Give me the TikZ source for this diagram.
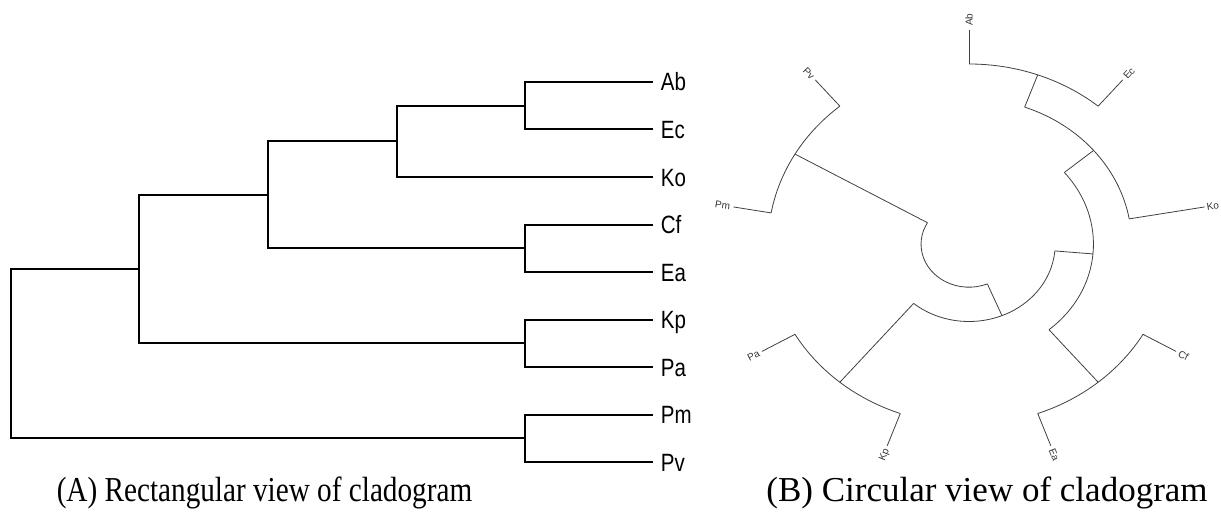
\documentclass[tikz,border=0pt]{standalone}
\usepackage{fontspec}
\setmainfont{Liberation Serif}
\newfontfamily\labfont[FakeStretch=0.82]{Liberation Sans}
\newfontfamily\capafont[FakeStretch=0.835]{Liberation Serif}
\newfontfamily\smallfont{Liberation Sans}
\begin{document}
\begin{tikzpicture}[x=1pt,y=-1pt,
  rbranch/.style={line width=2pt, black},
  cbranch/.style={line width=0.8pt, black!75},
  rlabel/.style={anchor=west, inner sep=0pt, font=\labfont\fontsize{25}{25}\selectfont, text height=18pt, text depth=0pt},
  clabel/.style={inner sep=1pt, font=\smallfont\fontsize{10}{10}\selectfont, text height=7.2pt, text depth=0pt, text=black!80},
  caption/.style={inner sep=0pt, anchor=base}]
\useasboundingbox (0,0) rectangle (1221,516);
% ---------------- rectangular cladogram ----------------
\coordinate (Ab) at (653.3,82);
\coordinate (Ec) at (653.3,129.5);
\coordinate (Ko) at (653.3,177);
\coordinate (Cf) at (653.3,224.5);
\coordinate (Ea) at (653.3,272);
\coordinate (Kp) at (653.3,319.5);
\coordinate (Pa) at (653.3,367);
\coordinate (Pm) at (653.3,414.5);
\coordinate (Pv) at (653.3,462);
\coordinate (AE) at (525,105.75);
\coordinate (Z) at (396.6,141.4);
\coordinate (CE) at (525,248.25);
\coordinate (Y) at (268.3,194.8);
\coordinate (KP) at (525,343.25);
\coordinate (X) at (139.3,269);
\coordinate (PP) at (525,438.25);
\coordinate (R) at (11.3,353.6);
\draw[rbranch] (R) |- (X);
\draw[rbranch] (R) |- (PP);
\draw[rbranch] (X) |- (Y);
\draw[rbranch] (X) |- (KP);
\draw[rbranch] (Y) |- (Z);
\draw[rbranch] (Y) |- (CE);
\draw[rbranch] (Z) |- (AE);
\draw[rbranch] (Z) |- (Ko);
\draw[rbranch] (AE) |- (Ab);
\draw[rbranch] (AE) |- (Ec);
\draw[rbranch] (CE) |- (Cf);
\draw[rbranch] (CE) |- (Ea);
\draw[rbranch] (KP) |- (Kp);
\draw[rbranch] (KP) |- (Pa);
\draw[rbranch] (PP) |- (Pm);
\draw[rbranch] (PP) |- (Pv);
\node[rlabel, xshift=7.4pt] (tAb) at (Ab) {Ab};
\node[rlabel, xshift=7.4pt] (tEc) at (Ec) {Ec};
\node[rlabel, xshift=7.4pt] (tKo) at (Ko) {Ko};
\node[rlabel, xshift=7.4pt] (tCf) at (Cf) {Cf};
\node[rlabel, xshift=7.4pt] (tEa) at (Ea) {Ea};
\node[rlabel, xshift=7.4pt] (tKp) at (Kp) {Kp};
\node[rlabel, xshift=7.4pt] (tPa) at (Pa) {Pa};
\node[rlabel, xshift=7.4pt] (tPm) at (Pm) {Pm};
\node[rlabel, xshift=7.4pt] (tPv) at (Pv) {Pv};
% ---------------- circular cladogram ----------------
\begin{scope}[shift={(969,244.2)}, x=1.115pt, y=1pt]
  % root arc ends
  \coordinate (cRa) at (150:43);
  \coordinate (cRb) at (-67.5:43);
  % Pm/Pv
  \coordinate (cPP) at (150:180.2);
  \coordinate (cPm0) at (170:180.2);
  \coordinate (cPv0) at (130:180.2);
  \coordinate (cPm) at (170:214.5);
  \coordinate (cPv) at (130:214.5);
  % X
  \coordinate (cX) at (-67.5:77.3);
  \coordinate (cXa) at (-130:77.3);
  \coordinate (cXb) at (-5:77.3);
  % Kp/Pa
  \coordinate (cKP) at (-130:180.2);
  \coordinate (cKp0) at (-110:180.2);
  \coordinate (cPa0) at (-150:180.2);
  \coordinate (cKp) at (-110:214.5);
  \coordinate (cPa) at (-150:214.5);
  % Y
  \coordinate (cY) at (-5:111.6);
  \coordinate (cYa) at (-50:111.6);
  \coordinate (cYb) at (40:111.6);
  % Cf/Ea
  \coordinate (cCE) at (-50:180.2);
  \coordinate (cCf0) at (-30:180.2);
  \coordinate (cEa0) at (-70:180.2);
  \coordinate (cCf) at (-30:214.5);
  \coordinate (cEa) at (-70:214.5);
  % Z
  \coordinate (cZ) at (40:145.9);
  \coordinate (cZa) at (10:145.9);
  \coordinate (cZb) at (70:145.9);
  \coordinate (cKo) at (10:214.5);
  % Ab/Ec
  \coordinate (cAE) at (70:180.2);
  \coordinate (cAb0) at (90:180.2);
  \coordinate (cEc0) at (50:180.2);
  \coordinate (cAb) at (90:214.5);
  \coordinate (cEc) at (50:214.5);
  % branches
  \draw[cbranch] (cRa) arc[start angle=150, end angle=292.5, x radius=47.95pt, y radius=43pt];
  \draw[cbranch] (cRa) -- (cPP);
  \draw[cbranch] (cRb) -- (cX);
  \draw[cbranch] (cPv0) arc[start angle=130, end angle=170, x radius=200.92pt, y radius=180.2pt];
  \draw[cbranch] (cPm0) -- (cPm);
  \draw[cbranch] (cPv0) -- (cPv);
  \draw[cbranch] (cXa) arc[start angle=-130, end angle=-5, x radius=86.19pt, y radius=77.3pt];
  \draw[cbranch] (cXa) -- (cKP);
  \draw[cbranch] (cXb) -- (cY);
  \draw[cbranch] (cPa0) arc[start angle=-150, end angle=-110, x radius=200.92pt, y radius=180.2pt];
  \draw[cbranch] (cKp0) -- (cKp);
  \draw[cbranch] (cPa0) -- (cPa);
  \draw[cbranch] (cYa) arc[start angle=-50, end angle=40, x radius=124.43pt, y radius=111.6pt];
  \draw[cbranch] (cYa) -- (cCE);
  \draw[cbranch] (cYb) -- (cZ);
  \draw[cbranch] (cEa0) arc[start angle=-70, end angle=-30, x radius=200.92pt, y radius=180.2pt];
  \draw[cbranch] (cCf0) -- (cCf);
  \draw[cbranch] (cEa0) -- (cEa);
  \draw[cbranch] (cZa) arc[start angle=10, end angle=70, x radius=162.68pt, y radius=145.9pt];
  \draw[cbranch] (cZa) -- (cKo);
  \draw[cbranch] (cZb) -- (cAE);
  \draw[cbranch] (cEc0) arc[start angle=50, end angle=90, x radius=200.92pt, y radius=180.2pt];
  \draw[cbranch] (cAb0) -- (cAb);
  \draw[cbranch] (cEc0) -- (cEc);
  % labels
  \node[clabel, anchor=west, rotate=90] (lAb) at (90:217) {Ab};
  \node[clabel, anchor=west, rotate=46.9] (lEc) at (50:216.5) {Ec};
  \node[clabel, anchor=west, rotate=9] (lKo) at (10:215.5) {Ko};
  \node[clabel, anchor=west, rotate=-27.4] (lCf) at (-30:216.5) {Cf};
  \node[clabel, anchor=west, rotate=-67.9] (lEa) at (-70:216.5) {Ea};
  \node[clabel, anchor=east, rotate=67.9] (lKp) at (-110:216.5) {Kp};
  \node[clabel, anchor=east, rotate=27.4] (lPa) at (-150:216.5) {Pa};
  \node[clabel, anchor=east, rotate=-9] (lPm) at (170:216.5) {Pm};
  \node[clabel, anchor=east, rotate=-46.9] (lPv) at (130:216.5) {Pv};
\end{scope}
% captions
\node[caption, font=\capafont\fontsize{35}{35}\selectfont] (capA) at (264.5,501) {(A) Rectangular view of cladogram};
\node[caption, font=\fontsize{35}{35}\selectfont] (capB) at (987,501) {(B) Circular view of cladogram};
\end{tikzpicture}
\end{document}
